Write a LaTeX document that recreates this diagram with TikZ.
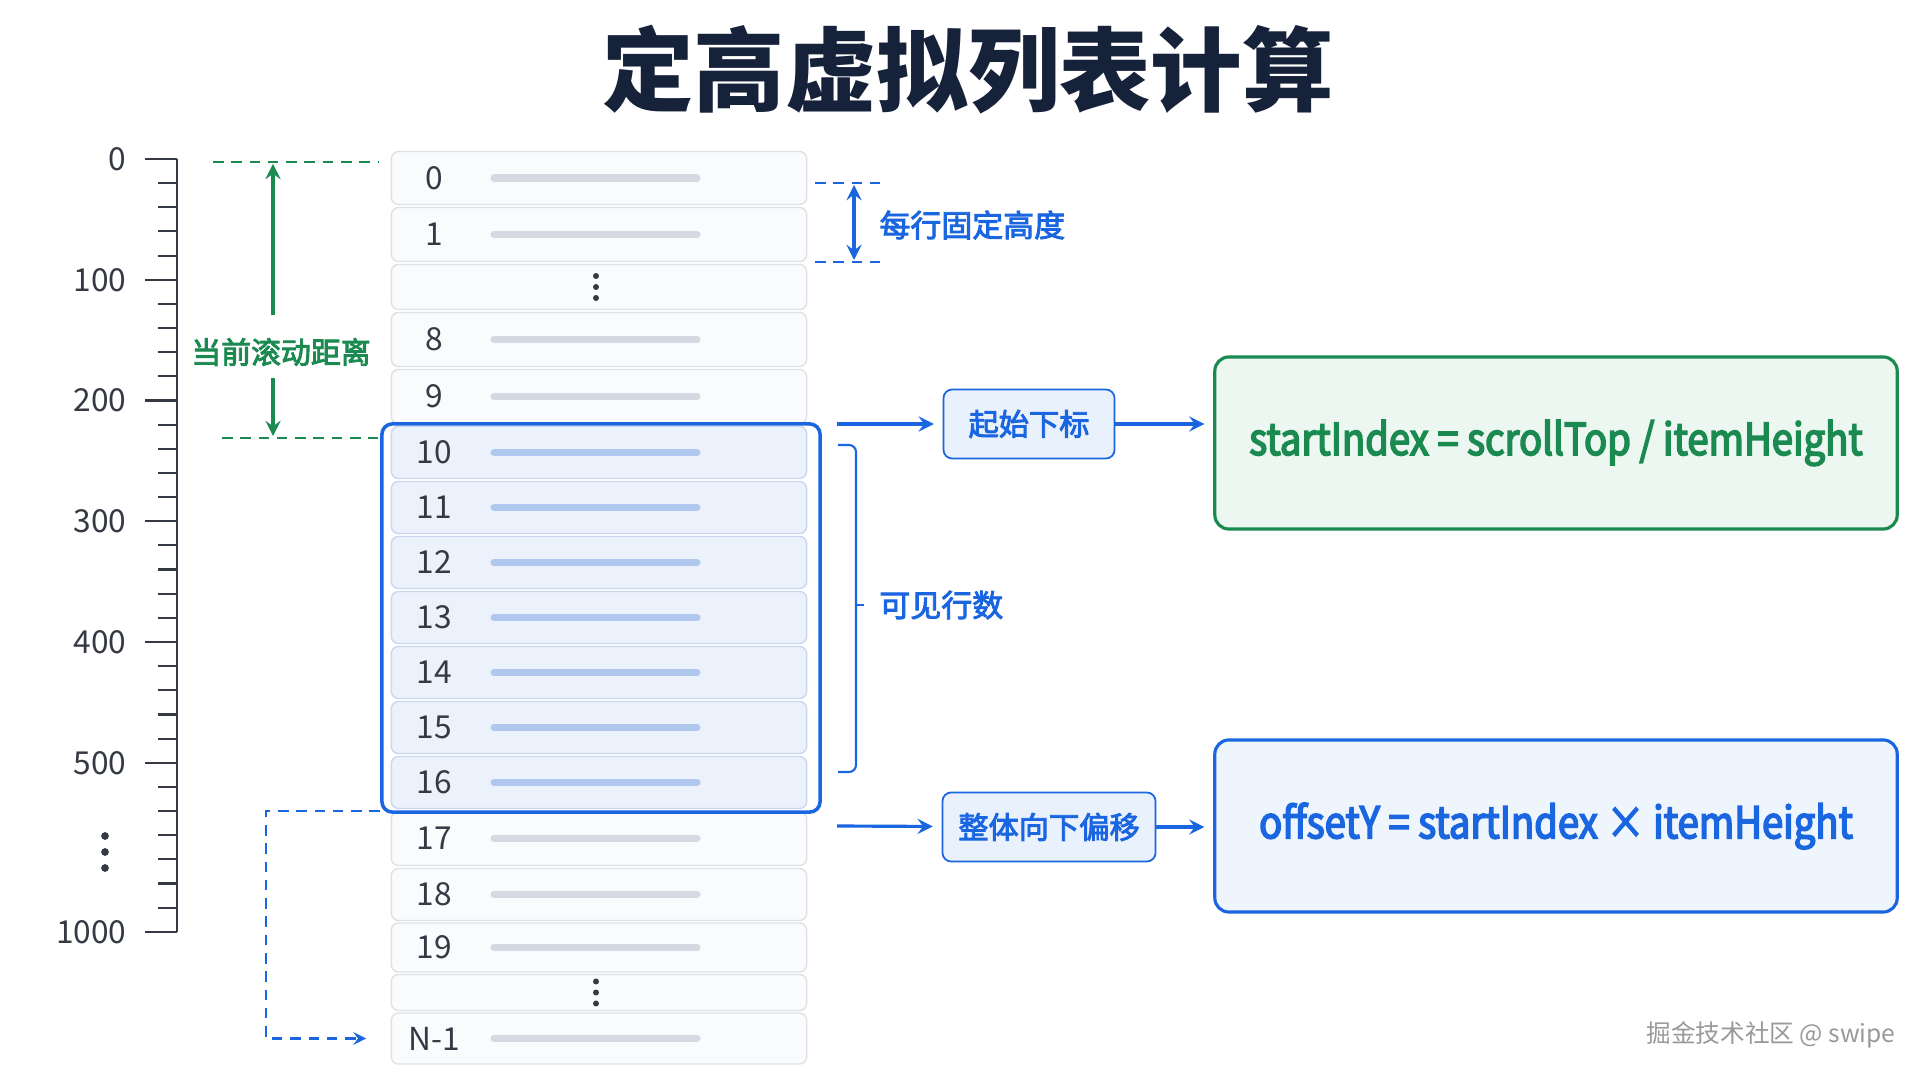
\documentclass[tikz,border=0pt]{standalone}
\usepackage{fontspec}
\setmainfont{Noto Sans CJK SC}
\newfontfamily\condfont{Noto Sans CJK SC}[FakeStretch=0.87]
\newcommand\heavier[2]{\special{pdf:literal direct 2 Tr #1 w}#2\special{pdf:literal direct 0 Tr}}
\usepackage{xcolor}
\usetikzlibrary{positioning,calc}

\definecolor{navy}{RGB}{22,33,58}
\definecolor{ink}{RGB}{52,57,68}
\definecolor{mainblue}{RGB}{26,101,224}
\definecolor{scrollgreen}{RGB}{26,138,80}
\definecolor{rowline}{RGB}{222,225,231}
\definecolor{rowfill}{RGB}{250,251,253}
\definecolor{visfill}{RGB}{236,242,252}
\definecolor{visline}{RGB}{202,215,240}
\definecolor{barclr}{RGB}{213,217,225}
\definecolor{visbarclr}{RGB}{176,199,238}
\definecolor{tagfill}{RGB}{233,241,253}
\definecolor{gboxfill}{RGB}{237,247,241}
\definecolor{bboxfill}{RGB}{239,245,253}

\begin{document}
\begin{tikzpicture}[x=0.01cm, y=-0.01cm,
    row/.style={rectangle, draw=rowline, fill=rowfill, rounded corners=2pt, minimum width=4.15cm, inner sep=0pt},
    visrow/.style={row, draw=visline, fill=visfill},
    num/.style={font=\fontsize{9}{10}\selectfont, text=ink},
    bar/.style={line width=2pt, line cap=round, draw=barclr},
    visbar/.style={bar, draw=visbarclr},
    ruler/.style={line width=0.6pt, draw=ink},
    rlabel/.style={anchor=east, inner sep=0pt, font=\fontsize{9}{10}\selectfont, text=ink},
    gdash/.style={dashed, dash pattern=on 3pt off 2.2pt, line width=0.6pt, draw=scrollgreen},
    garrow/.style={->, >=stealth, line width=0.9pt, draw=scrollgreen, fill=scrollgreen},
    bdash/.style={dashed, dash pattern=on 3pt off 2.2pt, line width=0.6pt, draw=mainblue},
    barrow/.style={->, >=stealth, line width=0.9pt, draw=mainblue, shorten >=2.5pt},
    bboth/.style={<->, >=stealth, line width=0.9pt, draw=mainblue},
    bbrace/.style={line width=0.6pt, draw=mainblue, rounded corners=2pt},
    blbl/.style={font=\fontsize{8.8}{10}\selectfont, text=mainblue},
    tag/.style={rectangle, draw=mainblue, fill=tagfill, line width=0.5pt, rounded corners=2.5pt, minimum height=0.69cm, font=\fontsize{8.6}{10}\selectfont, text=mainblue},
    formula/.style={rectangle, rounded corners=4pt, line width=0.9pt, minimum width=6.82cm, minimum height=1.72cm, font=\condfont\fontsize{12.5}{14}\selectfont}
  ]
  \useasboundingbox (0,0) rectangle (1928,1080);
  \fill[white] (0,0) rectangle (1928,1080);

  % title
  \node[font=\fontsize{26}{30}\selectfont\bfseries, text=navy] (title) at (968,70) {定高虚拟列表计算};

  % ruler
  \draw[ruler] (177,159) -- (177,932);
  \foreach \k in {0,...,32}
    \draw[ruler] (158,{159+\k*24.15}) -- (177,{159+\k*24.15});
  \foreach \v/\k in {0/0,100/5,200/10,300/15,400/20,500/25,1000/32} {
    \draw[ruler] (145,{159+\k*24.15}) -- (177,{159+\k*24.15});
    \node[rlabel] (m\v) at (127,{159+\k*24.15}) {\v};
  }
  \foreach \d in {836,852,868}
    \fill[ink] (105,\d) circle (1.1pt);

  % list rows
  \foreach \nm/\y/\h/\lab in {r0/178/53/0, r1/234.5/54/1, r8/339.5/54/8, r9/396.5/54/9,
      r17/838.5/54/17, r18/894.5/52/18, r19/947.5/49/19, rN/1038.5/51/N-1} {
    \node[row, minimum height=\h*0.01cm] (\nm) at (599,\y) {};
    \node[num] (\nm-n) at (434,\y) {\lab};
    \draw[bar] (494,\y) -- (697,\y);
  }
  \foreach \i [evaluate=\i as \y using 452.5+(\i-10)*55] in {10,...,16} {
    \node[visrow, minimum height=0.52cm] (r\i) at (599,\y) {};
    \node[num] (r\i-n) at (434,\y) {\i};
    \draw[visbar] (494,\y) -- (697,\y);
  }
  \node[row, minimum height=0.45cm] (d1) at (599,287) {};
  \node[row, minimum height=0.36cm] (d2) at (599,992.5) {};
  \foreach \d in {-11,0,11} {
    \fill[ink] ($(d1)+(-3,\d)$) circle (0.85pt);
    \fill[ink] ($(d2)+(-3,\d)$) circle (0.85pt);
  }

  % visible window
  \node[rectangle, draw=mainblue, line width=1pt, rounded corners=3pt, minimum width=4.38cm, minimum height=3.88cm] (win) at (601,618) {};

  % scroll distance
  \draw[gdash] (213,162) -- (378,162);
  \draw[gdash] (222,438) -- (378,438);
  \node[font=\fontsize{8.5}{10}\selectfont, text=scrollgreen] (scrollLbl) at (281,352) {\heavier{0.25}{当前滚动距离}};
  \coordinate (scrollTop) at (273,164);
  \coordinate (scrollBot) at (273,436);
  \draw[garrow, shorten <=3pt] (scrollLbl.north -| scrollTop) -- (scrollTop);
  \draw[garrow] (scrollLbl.south -| scrollBot) -- (scrollBot);

  % row height
  \draw[bdash] (815,183) -- (880,183);
  \draw[bdash] (815,262) -- (880,262);
  \coordinate (hTop) at (854,185);
  \coordinate (hBot) at (854,260);
  \draw[bboth] (hTop) -- (hBot);
  \node[blbl, anchor=west] (hLbl) at (867,225) {\heavier{0.25}{每行固定高度}};

  % visible count
  \draw[bbrace] (838,445) -| (856,772) -- (838,772);
  \draw[bbrace] (856,605) -- (864,605);
  \node[blbl, anchor=west] (visLbl) at (867,605) {\heavier{0.25}{可见行数}};

  % start index
  \node[tag, minimum width=1.71cm] (startTag) at (1029,424) {\heavier{0.25}{起始下标}};
  \node[formula, draw=scrollgreen, fill=gboxfill, text=scrollgreen] (startBox) at (1556,443) {\raisebox{-3pt}{\heavier{0.45}{startIndex = scrollTop / itemHeight}}};
  \coordinate (winR1) at (837,424);
  \draw[barrow] (winR1) -- (startTag);
  \draw[barrow] (startTag.east) -- (startTag.east -| startBox.west);

  % offset
  \node[tag, minimum width=2.13cm] (offsetTag) at (1049,827) {\heavier{0.25}{整体向下偏移}};
  \node[formula, draw=mainblue, fill=bboxfill, text=mainblue] (offsetBox) at (1556,826) {\raisebox{-3.5pt}{\heavier{0.45}{offsetY = startIndex × itemHeight}}};
  \coordinate (winR2) at (837,826);
  \draw[barrow] (winR2) -- (offsetTag);
  \draw[barrow] (offsetTag.east) -- (offsetTag.east -| offsetBox.west);

  % translate dashed
  \coordinate (winBL) at (380,811);
  \draw[bdash, ->, >=stealth, shorten >=7pt] (winBL) -- (266,811) |- (rN.west);

  \node[text=gray!80, font=\fontsize{7}{8}\selectfont] (mark) at (1771,1035) {掘金技术社区 @ swipe};
\end{tikzpicture}
\end{document}
